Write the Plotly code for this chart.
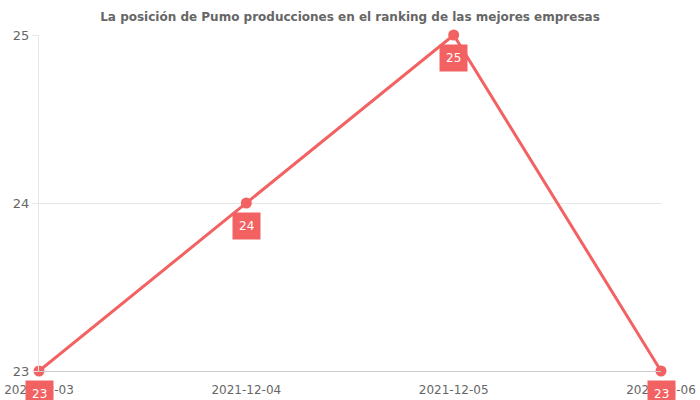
import plotly.graph_objects as go

dates = ["2021-12-03", "2021-12-04", "2021-12-05", "2021-12-06"]
positions = [23, 24, 25, 23]
title_text = "La posición de Pumo producciones en el ranking de las mejores empresas"

color = "#f36262"

fig = go.Figure()
fig.add_trace(go.Scatter(
    x=dates, y=positions, mode="lines+markers",
    line=dict(color=color, width=3),
    marker=dict(color=color, size=11),
    hoverinfo="skip", cliponaxis=False,
))

for d, p in zip(dates, positions):
    fig.add_annotation(
        x=d, y=p, text=str(p), showarrow=False,
        yshift=-23, bgcolor=color, borderpad=6,
        font=dict(color="white", size=12, family="DejaVu Sans"),
    )

fig.update_layout(
    width=700, height=400,
    margin=dict(l=39, r=39, t=35, b=29),
    paper_bgcolor="white", plot_bgcolor="white",
    font=dict(family="DejaVu Sans", color="#666666", size=12),
    title=dict(text="<b>" + title_text + "</b>", x=0.5, xanchor="center",
               y=1 - 17 / 400, yanchor="middle",
               font=dict(size=12, color="#666666", family="DejaVu Sans")),
    showlegend=False,
    xaxis=dict(type="category", range=[0, 3], showgrid=False,
               showline=True, linecolor="#cccccc", linewidth=1,
               ticks="outside", ticklen=8, tickcolor="rgba(0,0,0,0)",
               tickfont=dict(size=12, color="#666666"), automargin=False,
               zeroline=False, fixedrange=True),
    yaxis=dict(range=[23, 25], tickvals=[23, 24, 25], showgrid=True,
               gridcolor="#e6e6e6", showline=True, linecolor="#e6e6e6",
               ticks="outside", ticklen=6, tickcolor="#e6e6e6",
               tickfont=dict(size=13, color="#666666"), automargin=False,
               zeroline=False, fixedrange=True),
)

fig.write_html("out.html")
